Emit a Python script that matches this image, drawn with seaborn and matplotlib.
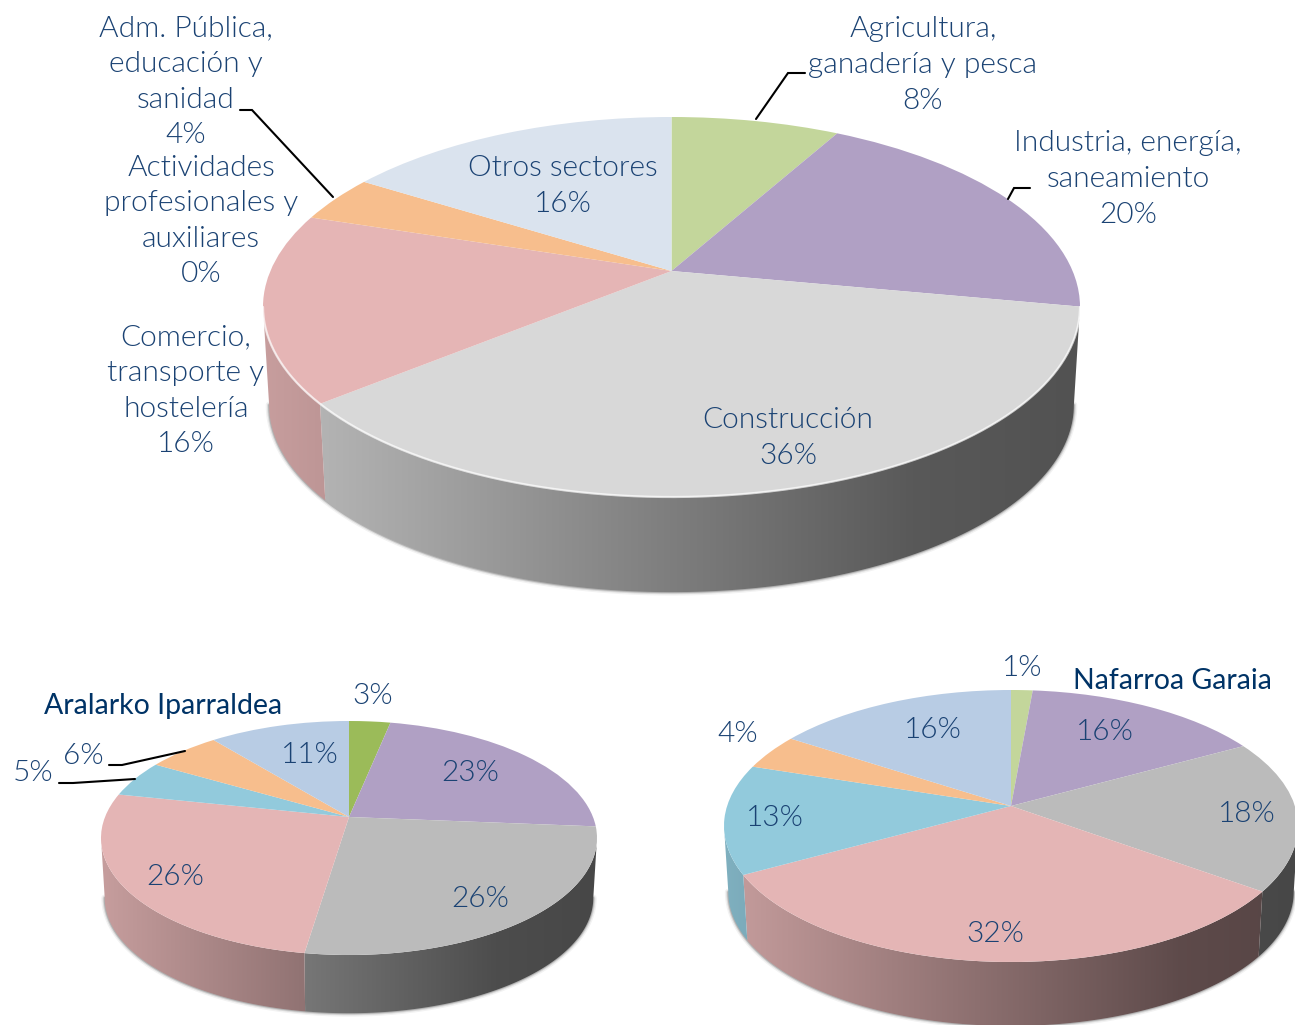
import matplotlib
matplotlib.use('Agg')
import matplotlib.pyplot as plt
from matplotlib.patches import Polygon
from matplotlib.transforms import Transform
from matplotlib.colors import to_rgb
import seaborn as sns
import numpy as np

# datos (valores estimados del dibujo; la etiqueta es el valor redondeado)
sectores_total = ['Agricultura,\nganadería y pesca', 'Industria, energía,\nsaneamiento', 'Construcción',
                  'Comercio,\ntransporte y\nhostelería', 'Actividades\nprofesionales y\nauxiliares',
                  'Adm. Pública,\neducación y\nsanidad', 'Otros sectores']
valores_total = [8, 20, 36, 16, 0, 4, 16]
valores_aralar = [3.2, 23.1, 26.1, 25.9, 5.1, 5.7, 10.9]
valores_nafarroa = [1.4, 15.6, 18, 32, 13, 4.2, 15.8]

colores_total = ['#C3D69B', '#B0A0C4', '#D8D8D8', '#E5B5B5', '#92CADC', '#F7BE8D', '#DAE3EE']
colores_aralar = ['#9BBB59', '#B0A0C4', '#BBBBBB', '#E4B5B5', '#92CADC', '#F7BE8D', '#B8CCE4']
colores_nafarroa = ['#C3D69B', '#B0A0C4', '#BBBBBB', '#E4B5B5', '#92CADC', '#F7BE8D', '#B8CCE4']

TEXTO = '#1A4273'
TITULO = '#003366'
FUENTE = 'Lato'


class Perspectiva(Transform):
    """Lleva el circulo unidad a una elipse con el vertice desplazado."""
    input_dims = 2
    output_dims = 2
    has_inverse = False

    def __init__(self, cx, cy, a, b, d):
        super().__init__()
        self.cx, self.cy, self.a, self.b = cx, cy, a, b
        self.k = d / b

    def transform_non_affine(self, values):
        values = np.asarray(values)
        u, v = values[:, 0], values[:, 1]
        w = 1 + self.k * v
        x = self.cx + self.a * np.sqrt(1 - self.k ** 2) * u / w
        y = self.cy - self.b * (v + self.k) / w
        return np.column_stack([x, y])


def punto_arco(p, t, alto=0, escala=1.0):
    pts = p.transform_non_affine(np.column_stack([np.cos(t), np.sin(t)]))
    pts[:, 0] = p.cx + (pts[:, 0] - p.cx) * escala
    pts[:, 1] = p.cy + (pts[:, 1] - p.cy) * escala + alto
    return pts


def tarta(ax, valores, colores, cx, cy, a, b, d, alto, escala=0.985, brillo=0.0):
    p = Perspectiva(cx, cy, a, b, d)
    wedges, _ = ax.pie(valores, colors=colores, startangle=90, counterclock=False,
                       radius=1, wedgeprops={'linewidth': 0})
    # angulo (en el circulo) de los puntos mas a la izquierda y derecha de la elipse
    t_der = -np.arcsin(p.k)
    t_izq = -np.pi + np.arcsin(p.k)
    rampa = np.linspace(0, 1, 300)
    factor = np.interp(rampa, [0, 0.8, 1], [0.87, 0.41, 0.38])

    # sombra suave bajo la pared
    t = np.linspace(t_izq, t_der, 200)
    fondo = punto_arco(p, t, alto, escala)
    for lw, al in [(5, 0.05), (3, 0.10), (1.5, 0.18)]:
        ax.plot(fondo[:, 0], fondo[:, 1], color='black', lw=lw, alpha=al, zorder=0.2)

    for w, color in zip(wedges, colores):
        w.set_transform(p + ax.transData)
        # las paredes solo se ven en la mitad inferior de la elipse
        inicio = np.radians(w.theta1) - 2 * np.pi
        fin = np.radians(w.theta2) - 2 * np.pi
        for desfase in (0, 2 * np.pi):
            t1 = max(inicio + desfase, t_izq)
            t2 = min(fin + desfase, t_der)
            if t2 <= t1:
                continue
            t = np.linspace(t1, t2, 120)
            arriba = punto_arco(p, t)
            abajo = punto_arco(p, t, alto, escala)
            pared = Polygon(np.vstack([arriba, abajo[::-1]]), closed=True, transform=ax.transData,
                            facecolor='none', edgecolor='none')
            ax.add_patch(pared)
            img = (factor[:, None] * np.array(to_rgb(color))[None, :])[None, :, :]
            im = ax.imshow(img, extent=(cx - a, cx + a, cy + b + alto + 5, cy - b), aspect='auto',
                           interpolation='bilinear', zorder=0.5)
            im.set_clip_path(pared)

    if brillo > 0:
        t = np.linspace(t_izq, t_der, 200)
        borde = punto_arco(p, t)
        ax.plot(borde[:, 0], borde[:, 1], color='white', lw=1.6, alpha=brillo, zorder=2)
    return wedges


def texto(ax, x, y, s, color=TEXTO, peso=300, size=21.5):
    ax.text(x, y, s, ha='center', va='center', color=color, fontsize=size, fontweight=peso,
            linespacing=1.46, zorder=5)


sns.set_theme(style='white')
plt.rcParams['font.family'] = [FUENTE, 'DejaVu Sans']

fig = plt.figure(figsize=(12.95, 10.25), dpi=100, facecolor='white')
ax = fig.add_axes([0, 0, 1, 1])

tarta(ax, valores_total, colores_total, 671.5, 307, 408.5, 190, 36, 98, brillo=0.7)
tarta(ax, valores_aralar, colores_aralar, 349, 838, 248, 117, 21, 60)
tarta(ax, valores_nafarroa, colores_nafarroa, 1011, 826, 287, 136, 20, 66)

# etiquetas grafico principal
pos_total = [(923, 65), (1128, 179), (788, 438), (186, 391), (201, 221), (186, 82), (563, 186)]
for nombre, valor, (x, y) in zip(sectores_total, valores_total, pos_total):
    texto(ax, x, y, f'{nombre}\n{valor:.0f}%')

pos_aralar = [(373, 696), (470, 773), (480, 899), (175, 877), (33, 773), (83, 756), (310, 755)]
for valor, (x, y) in zip(valores_aralar, pos_aralar):
    texto(ax, x, y, f'{valor:.0f}%')

pos_nafarroa = [(1022, 668), (1105, 732), (1247, 814), (995, 934), (775, 818), (738, 734), (933, 730)]
for valor, (x, y) in zip(valores_nafarroa, pos_nafarroa):
    texto(ax, x, y, f'{valor:.0f}%')

texto(ax, 163, 706, 'Aralarko Iparraldea', color=TITULO, peso=400, size=20.5)
texto(ax, 1172, 681, 'Nafarroa Garaia', color=TITULO, peso=400, size=20.5)

# lineas guia
guias = [
    ([240, 252, 333], [110, 110, 197]),
    ([805, 788, 756], [73, 73, 119]),
    ([1030, 1014, 1008], [188, 188, 199]),
    ([109, 122, 185], [765, 765, 751]),
    ([59, 73, 135], [783, 783, 779]),
]
for xs, ys in guias:
    ax.plot(xs, ys, color='black', lw=1.5, zorder=4, solid_joinstyle='miter')

ax.set_aspect('auto')
ax.set_xlim(0, 1295)
ax.set_ylim(1025, 0)
ax.axis('off')

fig.savefig('out.png', dpi=100, facecolor='white')
